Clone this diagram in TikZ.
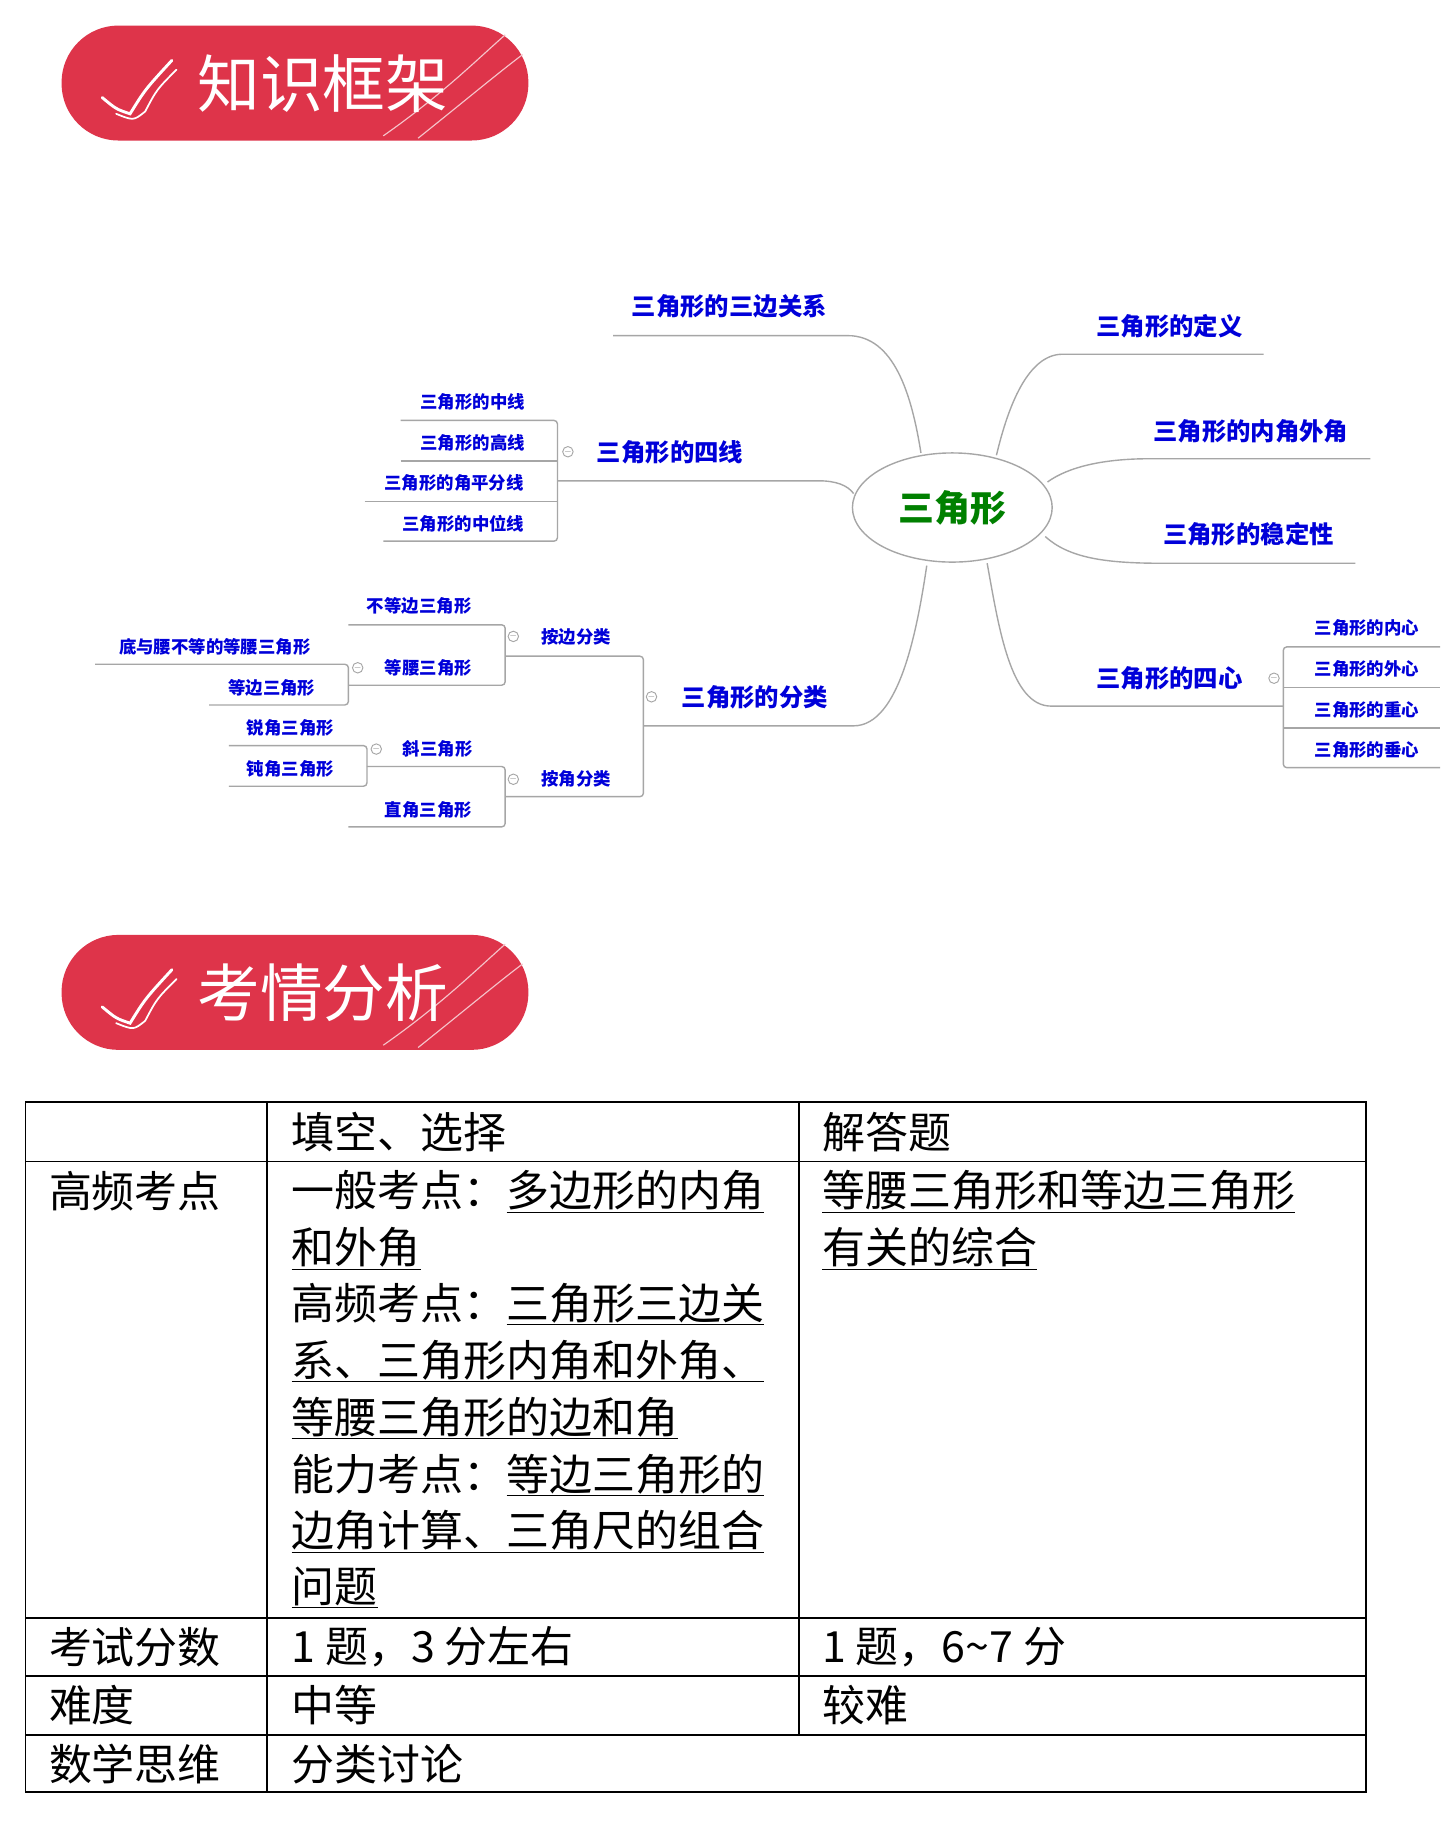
\documentclass[tikz,border=0pt]{standalone}
\usepackage{fontspec}
\usetikzlibrary{shapes.geometric}
\setmainfont{Noto Sans CJK SC}
\definecolor{hred}{RGB}{222,52,74}
\begin{document}
\begin{tikzpicture}[x=1pt,y=-1pt,
  br/.style={draw=gray!70, line width=1.2pt},
  lbl/.style={text=blue!85!black, font=\bfseries\fontsize{21}{23}\selectfont, inner sep=0pt},
  sm/.style={text=blue!85!black, font=\bfseries\fontsize{15}{17}\selectfont, inner sep=0pt},
  col/.style={draw=gray!70, fill=white, circle, inner sep=0pt, minimum size=9pt, font=\fontsize{8}{8}\selectfont, text=gray, line width=0.8pt},
  tt/.style={anchor=west, inner sep=0pt, font=\fontsize{37}{39}\selectfont},
  rl/.style={line width=1.3pt}]
\useasboundingbox (0,0) rectangle (1242,1568);
\fill[white] (0,0) rectangle (1242,1568);

% headers
\foreach \y/\t in {22/知识框架, 805/考情分析}{
  \fill[hred, rounded corners=49pt] (53,\y) rectangle (455,\y+99);
  \draw[white!70!hred, line width=1pt] (330,\y+95) .. controls (380,\y+60) and (410,\y+30) .. (435,\y+8);
  \draw[white!70!hred, line width=1pt] (360,\y+97) .. controls (400,\y+65) and (430,\y+40) .. (450,\y+25);
  \draw[white, line width=2.5pt, line cap=round] (88,\y+62) .. controls (100,\y+72) .. (112,\y+76) .. controls (125,\y+55) .. (148,\y+30);
  \draw[white, line width=1.5pt, line cap=round] (100,\y+76) .. controls (115,\y+82) .. (125,\y+74) .. controls (135,\y+55) .. (152,\y+38);
  \node[text=white, font=\fontsize{54}{56}\selectfont, inner sep=0pt] at (278,\y+50) {\t};
}

% mind map
\node[draw=gray!70, line width=1.2pt, ellipse, minimum width=172pt, minimum height=94pt, inner sep=0pt] (c) at (820,437) {};
\node[text=green!50!black, font=\bfseries\fontsize{31}{33}\selectfont] at (820,437) {三角形};

\node[lbl] (a1) at (628,264) {三角形的三边关系};
\draw[br] (528,289) -- (730,289) .. controls (770,289) and (785,340) .. (793,390);
\node[lbl] (a2) at (1007,281) {三角形的定义};
\draw[br] (1088,305) -- (915,305) .. controls (885,305) and (868,350) .. (858,392);
\node[lbl] (a3) at (1077,371) {三角形的内角外角};
\draw[br] (1180,395) -- (990,395) .. controls (950,395) and (920,402) .. (902,415);
\node[lbl] (a4) at (1075,460) {三角形的稳定性};
\draw[br] (1167,485) -- (1000,485) .. controls (950,485) and (920,480) .. (900,462);
\node[lbl] (a5) at (577,389) {三角形的四线};
\draw[br] (480,414) -- (705,414) .. controls (720,414) and (730,418) .. (735,425);
\node[lbl] (a6) at (1007,584) {三角形的四心};
\draw[br] (1105,608) -- (905,608) .. controls (870,608) and (860,540) .. (850,485);
\node[lbl] (a7) at (650,600) {三角形的分类};
\draw[br] (554,625) -- (735,625) .. controls (775,625) and (790,540) .. (798,487);

% four lines
\draw[br, rounded corners=3pt] (345,362) -- (480,362) -- (480,466) -- (330,466);
\draw[br] (345,397) -- (480,397);
\draw[br] (314,432) -- (480,432);
\node[sm] at (407,346) {三角形的中线};
\node[sm] at (407,381) {三角形的高线};
\node[sm] at (391,416) {三角形的角平分线};
\node[sm] at (399,451) {三角形的中位线};
\node[col] at (489,389) {$-$};

% four centers
\draw[br, rounded corners=3pt] (1240,557) -- (1105,557) -- (1105,661) -- (1240,661);
\draw[br] (1105,592) -- (1240,592);
\draw[br] (1105,627) -- (1240,627);
\node[sm] at (1177,541) {三角形的内心};
\node[sm] at (1177,576) {三角形的外心};
\node[sm] at (1177,611) {三角形的重心};
\node[sm] at (1177,646) {三角形的垂心};
\node[col] at (1097,584) {$-$};

% classification
\draw[br, rounded corners=3pt] (435,565) -- (554,565) -- (554,686) -- (435,686);
\node[col] at (561,600) {$-$};
\node[sm] at (496,548) {按边分类};
\node[sm] at (496,671) {按角分类};
\draw[br, rounded corners=3pt] (300,538) -- (435,538) -- (435,590) -- (300,590);
\node[col] at (442,548) {$-$};
\node[sm] at (361,522) {不等边三角形};
\node[sm] at (369,575) {等腰三角形};
\draw[br, rounded corners=3pt] (82,572) -- (300,572) -- (300,607) -- (180,607);
\node[col] at (308,575) {$-$};
\node[sm] at (185,557) {底与腰不等的等腰三角形};
\node[sm] at (234,592) {等边三角形};
\draw[br, rounded corners=3pt] (316,660) -- (435,660) -- (435,712) -- (300,712);
\node[col] at (442,671) {$-$};
\node[sm] at (377,645) {斜三角形};
\node[sm] at (369,697) {直角三角形};
\draw[br, rounded corners=3pt] (197,642) -- (316,642) -- (316,677) -- (197,677);
\node[col] at (324,645) {$-$};
\node[sm] at (250,627) {锐角三角形};
\node[sm] at (250,662) {钝角三角形};

% table
\draw[rl] (22,949) rectangle (1176,1543);
\foreach \y in {1000,1393,1443,1494} \draw[rl] (22,\y) -- (1176,\y);
\draw[rl] (230,949) -- (230,1543);
\draw[rl] (688,949) -- (688,1494);
\node[tt] at (251,975) {填空、选择};
\node[tt] at (708,975) {解答题};
\node[tt] at (42,1026) {高频考点};
\node[tt] at (251,1026) {一般考点：\underline{多边形的内角}};
\node[tt] at (251,1075) {\underline{和外角}};
\node[tt] at (251,1123) {高频考点：\underline{三角形三边关}};
\node[tt] at (251,1172) {\underline{系、三角形内角和外角、}};
\node[tt] at (251,1221) {\underline{等腰三角形的边和角}};
\node[tt] at (251,1270) {能力考点：\underline{等边三角形的}};
\node[tt] at (251,1319) {\underline{边角计算、三角尺的组合}};
\node[tt] at (251,1367) {\underline{问题}};
\node[tt] at (708,1026) {\underline{等腰三角形和等边三角形}};
\node[tt] at (708,1075) {\underline{有关的综合}};
\node[tt] at (42,1418) {考试分数};
\node[tt] at (251,1418) {1 题，3 分左右};
\node[tt] at (708,1418) {1 题，6\textasciitilde7 分};
\node[tt] at (42,1468) {难度};
\node[tt] at (251,1468) {中等};
\node[tt] at (708,1468) {较难};
\node[tt] at (42,1519) {数学思维};
\node[tt] at (251,1519) {分类讨论};
\end{tikzpicture}
\end{document}
